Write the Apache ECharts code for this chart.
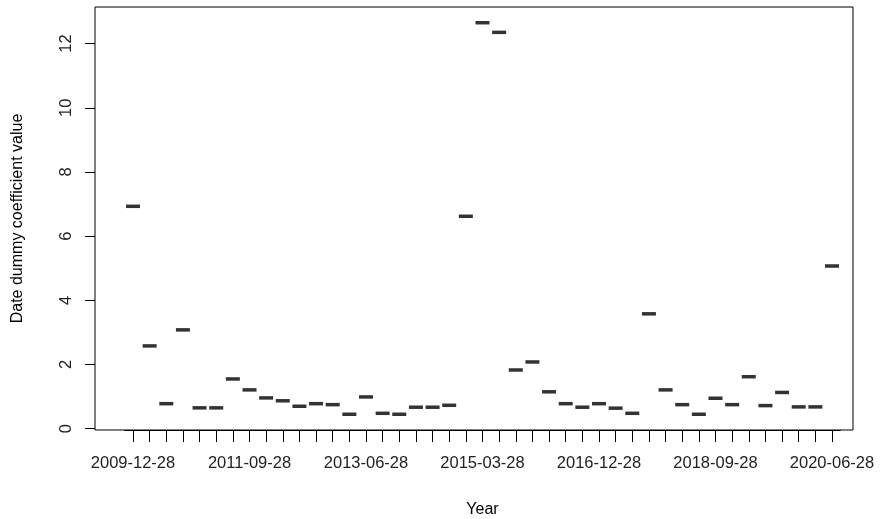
<!doctype html>
<html>
<head>
<meta charset="utf-8">
<script src="https://cdn.jsdelivr.net/npm/echarts@6/dist/echarts.min.js"></script>
<style>body{margin:0}#c{width:880px;height:519px}</style>
</head>
<body>
<div id="c"></div>
<script>
// quarterly dates, 2009-12-28 .. 2020-06-28
let dates = [];
for (let i = 0; i < 43; i++) {
    let m = 12 + 3 * i;
    let y = 2009 + Math.floor((m - 1) / 12);
    let mm = ((m - 1) % 12) + 1;
    dates.push(y + '-' + String(mm).padStart(2, '0') + '-28');
}
let coef = [6.93, 2.58, 0.78, 3.08, 0.65, 0.65, 1.55, 1.21, 0.96, 0.87,
            0.70, 0.78, 0.75, 0.45, 0.99, 0.48, 0.45, 0.67, 0.67, 0.73,
            6.62, 12.65, 12.35, 1.83, 2.08, 1.15, 0.78, 0.67, 0.78, 0.64,
            0.48, 3.58, 1.21, 0.75, 0.45, 0.95, 0.75, 1.62, 0.72, 1.13,
            0.68, 0.68, 5.07];
let yTicks = [0, 2, 4, 6, 8, 10, 12];

let step = (832 - 133) / 42;
let gl = 133 - step / 2, gw = step * 43;
let font = 'Liberation Sans, Arial, sans-serif';

let chart = echarts.init(document.getElementById('c'));
chart.setOption({
    animation: false,
    grid: { left: gl, width: gw, top: 7, bottom: 89, containLabel: false, outerBoundsMode: 'none' },
    graphic: [{ type: 'rect', shape: { x: 95, y: 7, width: 758, height: 423 },
        style: { fill: 'none', stroke: '#000', lineWidth: 1 } }],
    xAxis: {
        type: 'category', data: dates,
        name: 'Year', nameLocation: 'middle', nameGap: 72,
        nameTextStyle: { fontFamily: font, fontSize: 16, color: '#000' },
        axisLine: { show: true, onZero: false, lineStyle: { color: '#000' } },
        axisTick: { show: true, alignWithLabel: true, interval: 0, length: 12, lineStyle: { color: '#000' } },
        axisLabel: { interval: 6, margin: 25, fontFamily: font, fontSize: 16.5, color: '#222' }
    },
    yAxis: {
        type: 'value', min: -0.04, max: 13.14, offset: gl - 95,
        name: 'Date dummy coefficient value', nameLocation: 'middle', nameGap: 69,
        nameTextStyle: { fontFamily: font, fontSize: 16, color: '#000' },
        axisLine: { show: false },
        splitLine: { show: false },
        axisTick: { show: true, length: 10, lineStyle: { color: '#000' },
            customValues: yTicks },
        axisLabel: { rotate: 90, margin: 20, fontFamily: font, fontSize: 16.5, color: '#222',
            customValues: yTicks }
    },
    series: [{
        type: 'scatter', data: coef,
        symbol: 'rect', symbolSize: [14, 3.5],
        itemStyle: { color: '#000' }
    }]
});
</script>
</body>
</html>
